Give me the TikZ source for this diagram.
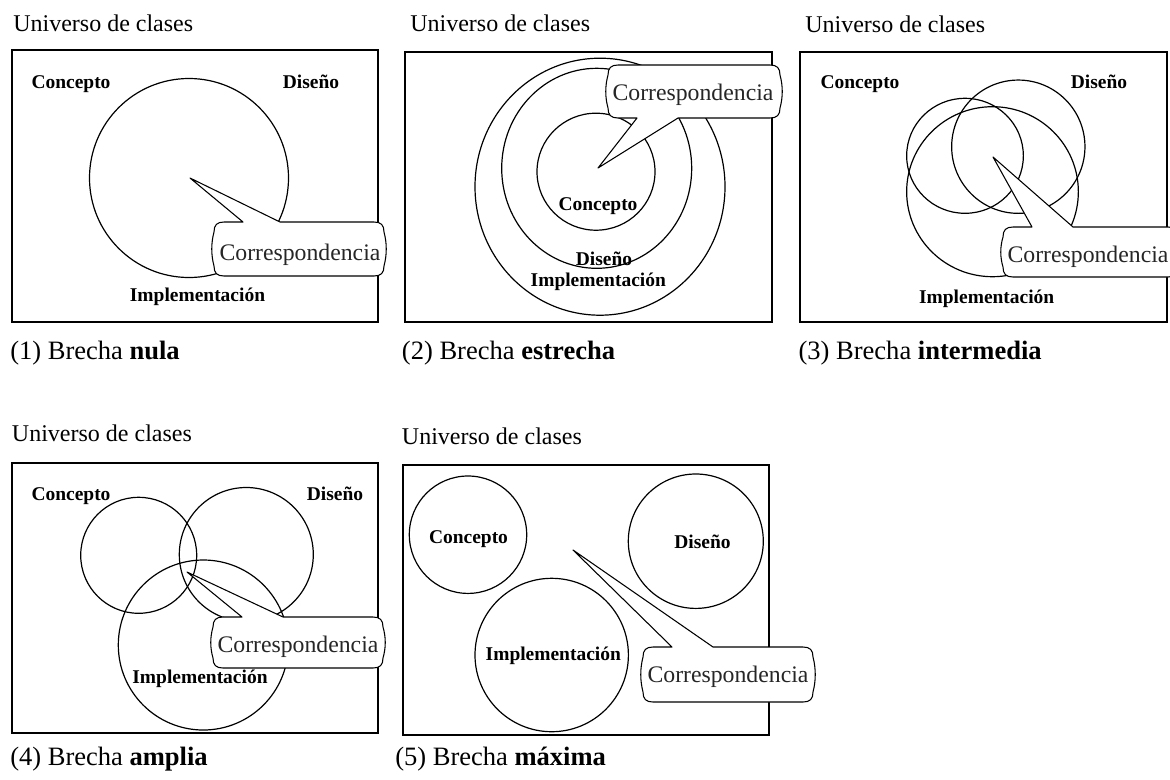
\documentclass[tikz,border=0pt]{standalone}
\usepackage{fontspec}
\setmainfont{Liberation Serif}
\usetikzlibrary{shapes.geometric}

\tikzset{
  frame/.style={draw, line width=1.3pt},
  blob/.style 2 args={ellipse, draw, line width=0.9pt, inner sep=0pt,
    minimum width={0.75pt*#1}, minimum height={0.75pt*#2}},
  tag/.style={font=\fontsize{14.6}{16}\selectfont\bfseries, inner sep=0pt, anchor=base},
  heading/.style={font=\fontsize{18}{20}\selectfont, inner sep=0pt, anchor=base west},
  caption/.style={font=\fontsize{19.9}{22}\selectfont, inner sep=0pt, anchor=base west},
  bubble/.style={draw, fill=white, line width=0.8pt, line join=round},
  bubbletext/.style={font=\fontsize{17.8}{20}\selectfont, text=black!85, inner sep=0pt, anchor=base},
}

% Speech bubble whose pointer leaves the top edge:
% #1 left, #2 top, #3 right, #4 bottom, #5 tip coordinate, #6/#7 pointer base x
\newcommand{\bubbleup}[7]{%
  \draw[bubble] (#5) -- (#7,#2) -- ({#3-10},#2)
    .. controls ({#3-3},#2) and (#3,{#2+3}) .. (#3,{#2+10})
    .. controls ({#3+3},{#2+10+(#4-#2-20)/3}) and ({#3+3},{#4-10-(#4-#2-20)/3}) .. (#3,{#4-10})
    .. controls (#3,{#4-3}) and ({#3-3},#4) .. ({#3-10},#4)
    -- ({#1+10},#4)
    .. controls ({#1+3},#4) and (#1,{#4-3}) .. (#1,{#4-10})
    .. controls ({#1-3},{#4-10-(#4-#2-20)/3}) and ({#1-3},{#2+10+(#4-#2-20)/3}) .. (#1,{#2+10})
    .. controls (#1,{#2+3}) and ({#1+3},#2) .. ({#1+10},#2)
    -- (#6,#2) -- cycle;
}
% Speech bubble whose pointer leaves the bottom edge
\newcommand{\bubbledown}[7]{%
  \draw[bubble] (#5) -- (#6,#4) -- ({#1+10},#4)
    .. controls ({#1+3},#4) and (#1,{#4-3}) .. (#1,{#4-10})
    .. controls ({#1-3},{#4-10-(#4-#2-20)/3}) and ({#1-3},{#2+10+(#4-#2-20)/3}) .. (#1,{#2+10})
    .. controls (#1,{#2+3}) and ({#1+3},#2) .. ({#1+10},#2)
    -- ({#3-10},#2)
    .. controls ({#3-3},#2) and (#3,{#2+3}) .. (#3,{#2+10})
    .. controls ({#3+3},{#2+10+(#4-#2-20)/3}) and ({#3+3},{#4-10-(#4-#2-20)/3}) .. (#3,{#4-10})
    .. controls (#3,{#4-3}) and ({#3-3},#4) .. ({#3-10},#4)
    -- (#7,#4) -- cycle;
}

\begin{document}
\begin{tikzpicture}[x=0.75pt,y=-0.75pt]
\fill[white] (0,0) rectangle (1170,779);
\clip (0,0) rectangle (1170,779);

% (1) nula
\draw[frame] (12,50) rectangle (378,322);
\node[heading] (u1) at (13,31) {Universo de clases};
\node[blob={199}{199}] (all1) at (189,178) {};
\node[tag] (c1) at (71,88) {Concepto};
\node[tag] (d1) at (311,88) {Diseño};
\node[tag] (i1) at (197.5,301) {Implementación};
\coordinate (tip1) at (190,178);
\bubbleup{214}{222}{384}{276}{tip1}{243}{280}
\node[bubbletext] (k1) at (300,260) {Correspondencia};
\node[caption] (cap1) at (10,359) {(1) Brecha \textbf{nula}};

% (2) estrecha
\draw[frame] (405,52) rectangle (772,322);
\node[heading] (u2) at (410,31) {Universo de clases};
\node[blob={250}{257}] (i2) at (600,186.7) {};
\node[blob={190}{200}] (d2) at (596.7,168.3) {};
\node[blob={118}{117}] (c2) at (596,171.7) {};
\node[tag] (c2l) at (598,210) {Concepto};
\node[tag] (d2l) at (604,265) {Diseño};
\node[tag] (i2l) at (598.3,286) {Implementación};
\coordinate (tip2) at (598,168);
\bubbledown{608}{65}{780}{118}{tip2}{637}{678}
\node[bubbletext] (k2) at (693,100) {Correspondencia};
\node[caption] (cap2) at (401.7,359) {(2) Brecha \textbf{estrecha}};

% (3) intermedia
\draw[frame] (800,52) rectangle (1167,322);
\node[heading] (u3) at (805,32) {Universo de clases};
\node[blob={116.7}{115}] (c3) at (965,155.8) {};
\node[blob={133.3}{133.3}] (d3) at (1018.3,146.7) {};
\node[blob={171.7}{170}] (i3) at (992.5,191.7) {};
\node[tag] (c3l) at (860,88) {Concepto};
\node[tag] (d3l) at (1099,88) {Diseño};
\node[tag] (i3l) at (986.7,303) {Implementación};
\coordinate (tip3) at (993,157);
\bubbleup{1003}{227}{1178}{277}{tip3}{1032}{1073}
\node[bubbletext] (k3) at (1088,262) {Correspondencia};
\node[caption] (cap3) at (798.3,359) {(3) Brecha \textbf{intermedia}};

% (4) amplia
\draw[frame] (12,463) rectangle (378,733);
\node[heading] (u4) at (11.7,441.5) {Universo de clases};
\node[blob={116}{116}] (c4) at (138.7,555.3) {};
\node[blob={134}{134}] (d4) at (246.3,554.5) {};
\node[blob={170}{170}] (i4) at (203.3,645) {};
\node[tag] (c4l) at (71,500) {Concepto};
\node[tag] (d4l) at (335,500) {Diseño};
\node[tag] (i4l) at (200,683) {Implementación};
\coordinate (tip4) at (187,572);
\bubbleup{213}{617}{383}{668}{tip4}{242}{283}
\node[bubbletext] (k4) at (298,652.5) {Correspondencia};
\node[caption] (cap4) at (10,765) {(4) Brecha \textbf{amplia}};

% (5) máxima
\draw[frame] (403,465) rectangle (769,735);
\node[heading] (u5) at (401.7,444) {Universo de clases};
\node[blob={117.4}{117.4}] (c5) at (468,534.7) {};
\node[blob={135}{134.4}] (d5) at (695.8,541.2) {};
\node[blob={153.4}{153.4}] (i5) at (551.7,655) {};
\node[tag] (c5l) at (468.5,543) {Concepto};
\node[tag] (d5l) at (702.5,548) {Diseño};
\node[tag] (i5l) at (553.3,660) {Implementación};
\coordinate (tip5) at (573,550);
\bubbleup{643}{647}{813}{702}{tip5}{672}{713}
\node[bubbletext] (k5) at (728,682) {Correspondencia};
\node[caption] (cap5) at (395,765) {(5) Brecha \textbf{máxima}};
\end{tikzpicture}
\end{document}
